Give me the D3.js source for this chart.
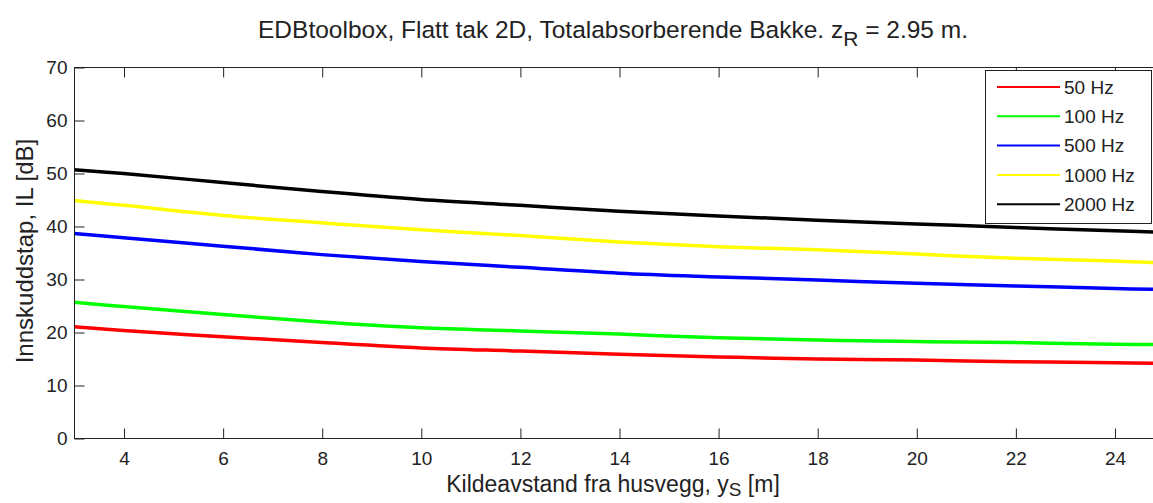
<!DOCTYPE html>
<html>
<head>
<meta charset="utf-8">
<script src="https://cdn.jsdelivr.net/npm/d3@7.9.0/dist/d3.min.js"></script>
<style>
  html, body { margin: 0; padding: 0; background: #fff; overflow: hidden; }
  svg { display: block; font-family: "Liberation Sans", Arial, sans-serif; }
</style>
</head>
<body>
<svg id="chart" width="1153" height="503"></svg>
<script>
// distance from wall (m)
const distances = [3, 4, 6, 8, 10, 12, 14, 16, 18, 20, 22, 24, 25];

// insertion loss per frequency
const il50 = [21.0, 20.3, 19.1, 18.0, 17.0, 16.4, 15.8, 15.3, 14.9, 14.7, 14.4, 14.2, 14.1];
const il100 = [25.6, 24.8, 23.3, 21.9, 20.8, 20.2, 19.6, 18.9, 18.5, 18.2, 18.0, 17.7, 17.6];
const il500 = [38.6, 37.8, 36.2, 34.6, 33.3, 32.2, 31.1, 30.4, 29.8, 29.2, 28.7, 28.2, 28.0];
const il1000 = [44.8, 43.9, 42.0, 40.6, 39.3, 38.2, 37.0, 36.1, 35.5, 34.7, 33.9, 33.4, 33.0];
const il2000 = [50.6, 49.9, 48.2, 46.5, 45.0, 43.9, 42.8, 41.9, 41.1, 40.4, 39.7, 39.1, 38.8];

const seriesNames = ["50 Hz", "100 Hz", "500 Hz", "1000 Hz", "2000 Hz"];
const seriesValues = [il50, il100, il500, il1000, il2000];
const seriesColors = ["#ff0000", "#00ff00", "#0000ff", "#ffff00", "#000000"];

const xTicks = [4, 6, 8, 10, 12, 14, 16, 18, 20, 22, 24];
const yTicks = [0, 10, 20, 30, 40, 50, 60, 70];

const svg = d3.select("#chart");

// plot box (right side runs past the window edge, as in the picture)
const boxL = 74, boxR = 1164, boxT = 67, boxB = 438;
const tickLen = 10;
const axisColor = "#222";

const x = d3.scaleLinear().domain([3, 25]).range([boxL, boxR]);
const y = d3.scaleLinear().domain([0, 70]).range([boxB, boxT]);

// curves
const line = d3.line()
  .x((d) => x(d[0]))
  .y((d) => y(d[1]))
  .curve(d3.curveCatmullRom);

const plot = svg.append("g");
plot.append("clipPath").attr("id", "clip")
  .append("rect").attr("x", boxL).attr("y", boxT)
  .attr("width", boxR - boxL).attr("height", boxB - boxT);

const curves = plot.append("g").attr("clip-path", "url(#clip)");
seriesValues.forEach((vals, i) => {
  curves.append("path")
    .datum(distances.map((d, j) => [d, vals[j]]))
    .attr("d", line)
    .attr("fill", "none")
    .attr("stroke", seriesColors[i])
    .attr("stroke-width", 3.5);
});

// frame
svg.append("rect")
  .attr("x", boxL + 0.5).attr("y", boxT + 0.5)
  .attr("width", boxR - boxL).attr("height", boxB - boxT)
  .attr("fill", "none").attr("stroke", axisColor).attr("stroke-width", 1);

// inward ticks on all four sides
const xAxisB = d3.axisBottom(x).tickValues(xTicks).tickSizeInner(-tickLen).tickSizeOuter(0).tickPadding(13);
const xAxisT = d3.axisTop(x).tickValues(xTicks).tickSizeInner(-tickLen).tickSizeOuter(0).tickFormat("");
const yAxisL = d3.axisLeft(y).tickValues(yTicks).tickSizeInner(-tickLen).tickSizeOuter(0).tickPadding(7);
const yAxisR = d3.axisRight(y).tickValues(yTicks).tickSizeInner(-tickLen).tickSizeOuter(0).tickFormat("");

function styleAxis(g) {
  g.select(".domain").remove();
  g.selectAll(".tick line").attr("stroke", axisColor);
  g.selectAll(".tick text")
    .attr("fill", axisColor)
    .style("font-family", "'Liberation Sans', Arial, sans-serif")
    .style("font-size", "19px");
}

svg.append("g").attr("transform", `translate(0.5,${boxB + 0.5})`).call(xAxisB).call(styleAxis);
svg.append("g").attr("transform", `translate(0.5,${boxT + 0.5})`).call(xAxisT).call(styleAxis);
svg.append("g").attr("transform", `translate(${boxL + 0.5},0.5)`).call(yAxisL).call(styleAxis);
svg.append("g").attr("transform", `translate(${boxR + 0.5},0.5)`).call(yAxisR).call(styleAxis);

// title
const title = svg.append("text")
  .attr("x", 613).attr("y", 38)
  .attr("text-anchor", "middle")
  .attr("fill", axisColor)
  .style("font-size", "24.5px");
title.append("tspan").text("EDBtoolbox, Flatt tak 2D, Totalabsorberende Bakke. z");
title.append("tspan").attr("dy", 8).style("font-size", "21px").text("R");
title.append("tspan").attr("dy", -8).text(" = 2.95 m.");

// x label
const xLabel = svg.append("text")
  .attr("x", 613).attr("y", 492)
  .attr("text-anchor", "middle")
  .attr("fill", axisColor)
  .style("font-size", "23px");
xLabel.append("tspan").text("Kildeavstand fra husvegg, y");
xLabel.append("tspan").attr("dy", 4).style("font-size", "19px").text("S");
xLabel.append("tspan").attr("dy", -4).text(" [m]");

// y label
svg.append("text")
  .attr("transform", "translate(33,251) rotate(-90)")
  .attr("text-anchor", "middle")
  .attr("fill", axisColor)
  .style("font-size", "24px")
  .text("Innskuddstap, IL [dB]");

// legend
const lg = svg.append("g");
lg.append("rect")
  .attr("x", 985.5).attr("y", 70.5)
  .attr("width", 166).attr("height", 153)
  .attr("fill", "#fff").attr("stroke", axisColor).attr("stroke-width", 1);

seriesNames.forEach((name, i) => {
  const ly = 87 + i * 29.3;
  lg.append("line")
    .attr("x1", 997).attr("x2", 1060)
    .attr("y1", ly).attr("y2", ly)
    .attr("stroke", seriesColors[i]).attr("stroke-width", 2);
  lg.append("text")
    .attr("x", 1064).attr("y", ly)
    .attr("dy", "0.36em")
    .attr("fill", axisColor)
    .style("font-size", "19px")
    .text(name);
});
</script>
</body>
</html>
